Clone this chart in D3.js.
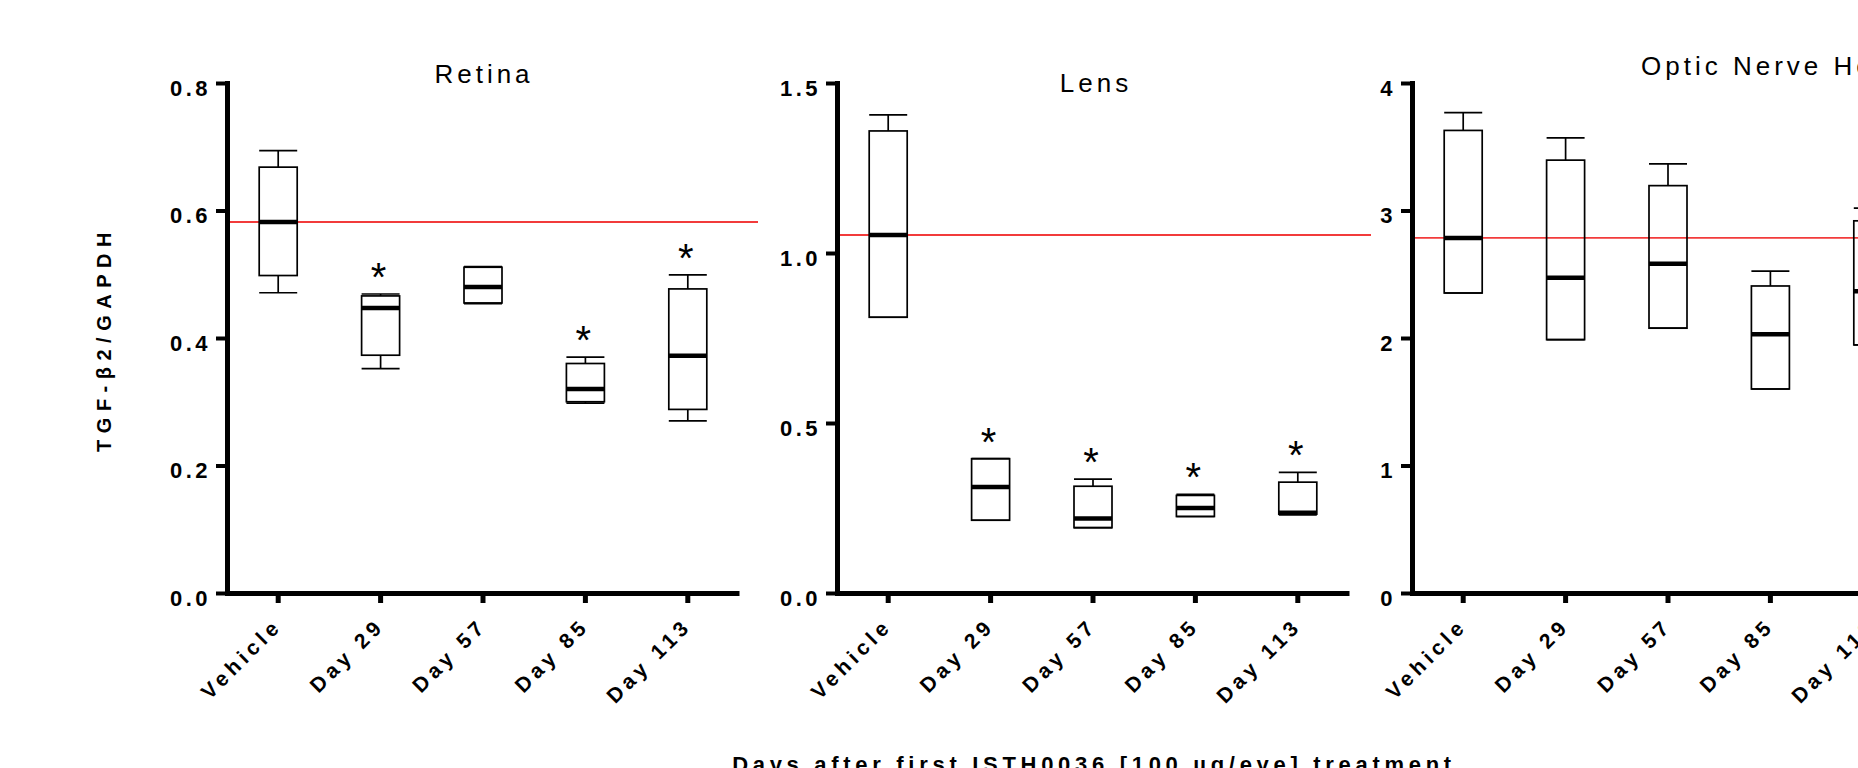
<!DOCTYPE html>
<html>
<head>
<meta charset="utf-8">
<script src="https://cdn.jsdelivr.net/npm/d3@7"></script>
<style>
  body { margin: 0; background: #fff; }
  text { font-family: "Liberation Sans", Arial, sans-serif; fill: #000; }
</style>
</head>
<body>
<script>
// categories along each x axis
var categories = ["Vehicle", "Day 29", "Day 57", "Day 85", "Day 113"];
var panelTitles = ["Retina", "Lens", "Optic Nerve Head"];

// [whisker low, q1, median, q3, whisker high] per category
var retinaStats = [
    [0.471, 0.498, 0.582, 0.668, 0.694],
    [0.352, 0.373, 0.447, 0.466, 0.469],
    [0.454, 0.455, 0.480, 0.511, 0.512],
    [0.298, 0.300, 0.320, 0.360, 0.370],
    [0.270, 0.288, 0.372, 0.477, 0.499]
];
var lensStats = [
    [0.811, 0.811, 1.053, 1.359, 1.406],
    [0.214, 0.214, 0.312, 0.395, 0.395],
    [0.192, 0.192, 0.219, 0.314, 0.335],
    [0.225, 0.225, 0.250, 0.287, 0.290],
    [0.230, 0.232, 0.236, 0.326, 0.355]
];
var opticStats = [
    [2.353, 2.353, 2.785, 3.628, 3.767],
    [1.987, 1.987, 2.472, 3.395, 3.570],
    [2.077, 2.077, 2.582, 3.195, 3.366],
    [1.600, 1.600, 2.030, 2.408, 2.524],
    [1.946, 1.946, 2.367, 2.919, 3.018]
];

// significance stars
var retinaSig = [false, true, false, true, true];
var lensSig = [false, true, true, true, true];
var opticSig = [false, false, false, false, false];

// y tick values
var retinaTicks = [0, 0.2, 0.4, 0.6, 0.8];
var lensTicks = [0, 0.5, 1.0, 1.5];
var opticTicks = [0, 1, 2, 3, 4];

var yLabel = "TGF-\u03b22/GAPDH";
var xTitle = "Days after first ISTH0036 [100 \u00b5g/eye] treatment";

var w = 1858, h = 768;
var plotTop = 83, plotBottom = 593, plotW = 512;
var boxW = 38;

var panels = [
    { title: panelTitles[0], stats: retinaStats, sig: retinaSig, ticks: retinaTicks, fmt: d3.format(".1f"),
      axisX: 227, titleX: 482, titleY: 83, anchor: "middle", redEnd: 758 },
    { title: panelTitles[1], stats: lensStats, sig: lensSig, ticks: lensTicks, fmt: d3.format(".1f"),
      axisX: 837, titleX: 1094, titleY: 92, anchor: "middle", redEnd: 1371 },
    { title: panelTitles[2], stats: opticStats, sig: opticSig, ticks: opticTicks, fmt: d3.format("d"),
      axisX: 1412, titleX: 1641, titleY: 75, anchor: "start", redEnd: 1870 }
];

var svg = d3.select("body")
    .append("svg")
    .attr("width", w)
    .attr("height", h);

svg.append("rect").attr("width", w).attr("height", h).attr("fill", "#fff");

function drawPanel(p) {
    var g = svg.append("g").attr("transform", "translate(" + p.axisX + ",0)");

    var x = d3.scaleBand().domain(categories).range([0, plotW]);
    var y = d3.scaleLinear()
        .domain([0, p.ticks[p.ticks.length - 1]])
        .range([plotBottom, plotTop]);

    // reference line at vehicle median
    var ref = y(p.stats[0][2]);
    g.append("line")
        .attr("x1", 3)
        .attr("x2", p.redEnd - p.axisX)
        .attr("y1", ref)
        .attr("y2", ref)
        .attr("stroke", "#f23b3b")
        .attr("stroke-width", 1.8);

    var boxes = g.selectAll("g.box")
        .data(p.stats)
        .enter()
        .append("g")
        .attr("class", "box")
        .attr("transform", function (d, i) {
            return "translate(" + (x(categories[i]) + x.bandwidth() / 2) + ",0)";
        });

    // whiskers
    boxes.append("line")
        .attr("x1", 0).attr("x2", 0)
        .attr("y1", function (d) { return y(d[3]); })
        .attr("y2", function (d) { return y(d[4]); })
        .attr("stroke", "#000").attr("stroke-width", 1.7);
    boxes.append("line")
        .attr("x1", -boxW / 2).attr("x2", boxW / 2)
        .attr("y1", function (d) { return y(d[4]); })
        .attr("y2", function (d) { return y(d[4]); })
        .attr("stroke", "#000").attr("stroke-width", 1.7);
    boxes.append("line")
        .attr("x1", 0).attr("x2", 0)
        .attr("y1", function (d) { return y(d[1]); })
        .attr("y2", function (d) { return y(d[0]); })
        .attr("stroke", "#000").attr("stroke-width", 1.7);
    boxes.append("line")
        .attr("x1", -boxW / 2).attr("x2", boxW / 2)
        .attr("y1", function (d) { return y(d[0]); })
        .attr("y2", function (d) { return y(d[0]); })
        .attr("stroke", "#000").attr("stroke-width", 1.7);

    // box
    boxes.append("rect")
        .attr("x", -boxW / 2)
        .attr("width", boxW)
        .attr("y", function (d) { return y(d[3]); })
        .attr("height", function (d) { return y(d[1]) - y(d[3]); })
        .attr("fill", "none")
        .attr("stroke", "#000")
        .attr("stroke-width", 1.7);

    // median
    boxes.append("line")
        .attr("x1", -boxW / 2).attr("x2", boxW / 2)
        .attr("y1", function (d) { return y(d[2]); })
        .attr("y2", function (d) { return y(d[2]); })
        .attr("stroke", "#000").attr("stroke-width", 4.5);

    // stars
    boxes.filter(function (d, i) { return p.sig[i]; })
        .append("text")
        .attr("text-anchor", "middle")
        .attr("x", -2)
        .attr("y", function (d) { return y(d[4]) - 3; })
        .attr("font-size", 40)
        .text("*");

    // y axis
    var yAxis = d3.axisLeft(y)
        .tickValues(p.ticks)
        .tickFormat(p.fmt)
        .tickSize(11)
        .tickSizeOuter(0)
        .tickPadding(5);
    var ya = g.append("g").call(yAxis);
    ya.select(".domain").attr("stroke-width", 5).attr("stroke-linecap", "square");
    ya.selectAll(".tick line").attr("stroke-width", 4);
    ya.selectAll(".tick text")
        .attr("dy", "0.55em")
        .attr("font-size", 22)
        .attr("font-weight", "bold")
        .attr("letter-spacing", 3.5)
        .attr("font-family", null);

    // x axis
    var xAxis = d3.axisBottom(x).tickSize(10).tickSizeOuter(0);
    var xa = g.append("g").attr("transform", "translate(0," + plotBottom + ")").call(xAxis);
    xa.select(".domain").attr("stroke-width", 5);
    xa.selectAll(".tick line").attr("stroke-width", 5);
    xa.selectAll(".tick text")
        .attr("x", 0)
        .attr("y", 0)
        .attr("dy", null)
        .attr("text-anchor", "end")
        .attr("transform", "translate(5,34) rotate(-45)")
        .attr("font-size", 21)
        .attr("font-weight", "bold")
        .attr("letter-spacing", 4.5)
        .attr("font-family", null);

    svg.selectAll(".tick text").attr("fill", "#000");

    // title
    svg.append("text")
        .attr("x", p.titleX + (p.anchor === "middle" ? 2 : 0))
        .attr("y", p.titleY)
        .attr("text-anchor", p.anchor)
        .attr("font-size", 26)
        .attr("letter-spacing", 4)
        .text(p.title);
}

panels.forEach(drawPanel);

// y axis label
svg.append("text")
    .attr("transform", "translate(111,339) rotate(-90)")
    .attr("text-anchor", "middle")
    .attr("font-size", 20)
    .attr("font-weight", "bold")
    .attr("letter-spacing", 6.5)
    .text(yLabel);

// x axis title
svg.append("text")
    .attr("x", 1094)
    .attr("y", 772)
    .attr("text-anchor", "middle")
    .attr("font-size", 22)
    .attr("font-weight", "bold")
    .attr("letter-spacing", 4.7)
    .text(xTitle);
</script>
</body>
</html>
